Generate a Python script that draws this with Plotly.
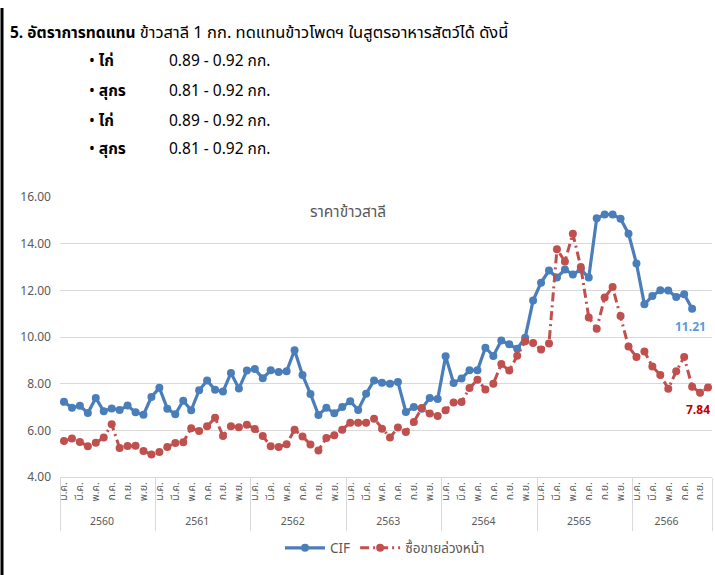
import plotly.graph_objects as go

# ---------------- data ----------------
YEARS = ["2560", "2561", "2562", "2563", "2564", "2565", "2566"]
MONTHS = ["ม.ค.", "ก.พ.", "มี.ค.", "เม.ย.", "พ.ค.", "มิ.ย.",
          "ก.ค.", "ส.ค.", "ก.ย.", "ต.ค.", "พ.ย.", "ธ.ค."]
MONTHS_LAST_YEAR = 9          # 2566 : ม.ค. - ก.ย.
EXTRA_CATEGORIES = 1          # one trailing un-labelled month

CIF = [7.22, 6.97, 7.05, 6.74, 7.39, 6.82, 6.94, 6.87, 7.06, 6.77, 6.67, 7.43,
       7.82, 6.93, 6.69, 7.27, 6.86, 7.72, 8.14, 7.74, 7.66, 8.46, 7.79, 8.56,
       8.63, 8.23, 8.57, 8.50, 8.53, 9.43, 8.37, 7.56, 6.66, 6.97, 6.73, 7.00,
       7.25, 6.87, 7.57, 8.14, 8.04, 8.00, 8.07, 6.79, 7.00, 6.93, 7.39, 7.34,
       9.17, 8.03, 8.22, 8.57, 8.57, 9.54, 9.19, 9.85, 9.69, 9.50, 9.97, 11.56,
       12.33, 12.85, 12.55, 12.89, 12.68, 12.89, 12.55, 15.09, 15.25, 15.25, 15.07, 14.43,
       13.15, 11.40, 11.76, 12.00, 11.99, 11.71, 11.83, 11.21]

FUTURES = [5.54, 5.65, 5.50, 5.32, 5.47, 5.69, 6.26, 5.24, 5.33, 5.34, 5.11, 4.96,
           5.07, 5.29, 5.46, 5.49, 6.09, 5.97, 6.17, 6.54, 5.76, 6.17, 6.13, 6.24,
           6.06, 5.76, 5.32, 5.29, 5.40, 6.03, 5.74, 5.39, 5.14, 5.67, 5.79, 6.03,
           6.33, 6.33, 6.33, 6.50, 6.07, 5.69, 6.12, 5.93, 6.36, 6.96, 6.72, 6.61,
           6.86, 7.19, 7.21, 7.81, 8.17, 7.75, 8.00, 8.84, 8.56, 9.20, 9.82, 9.74,
           9.46, 9.72, 13.76, 13.24, 14.43, 13.00, 10.84, 10.35, 11.69, 12.14, 10.90, 9.59,
           9.14, 9.38, 8.74, 8.37, 7.78, 8.53, 9.14, 7.87, 7.61, 7.84]

CIF_NAME = "CIF"
FUT_NAME = "ซื้อขายล่วงหน้า"
CHART_TITLE = "ราคาข้าวสาลี"

HEADER_BOLD = "5. อัตราการทดแทน"
HEADER_TEXT = "ข้าวสาลี 1 กก. ทดแทนข้าวโพดฯ ในสูตรอาหารสัตว์ได้ ดังนี้"
BULLET_ANIMALS = ["ไก่", "สุกร", "ไก่", "สุกร"]
BULLET_RATES = ["0.89 - 0.92 กก.", "0.81 - 0.92 กก.", "0.89 - 0.92 กก.", "0.81 - 0.92 กก."]

# ---------------- categories (two-level axis) ----------------
outer, inner = [], []
for yi, yr in enumerate(YEARS):
    n = 12 if yi < len(YEARS) - 1 else MONTHS_LAST_YEAR
    for m in range(n):
        outer.append(yr)
        inner.append("\u00a0" + MONTHS[m] if m % 2 == 0 else "\u200b" * (m // 2 + 1))
for k in range(EXTRA_CATEGORIES):
    outer.append(" ")
    inner.append("\u200b" * (k + 1))
NCAT = len(outer)

BLUE = "#4A7EBB"
RED = "#C0504D"
GREY = "#595959"
FONT = "Tahoma, 'Noto Sans Thai', 'Noto Sans', sans-serif"

# ---------------- geometry helpers (layout only) ----------------
W, H = 715, 575
ML, MR, MT, MB = 60, 3, 197, 98
PW, PH = W - ML - MR, H - MT - MB


def px_x(px):
    return (px - ML) / PW


def px_y(py):
    return (H - MB - py) / PH


def cat_x(i):
    return (i + 0.5) / NCAT


fig = go.Figure()

nC = len(CIF)
nF = len(FUTURES)

fig.add_trace(go.Scatter(
    x=[outer[:nC], inner[:nC]], y=CIF, name=CIF_NAME, mode="lines+markers",
    line=dict(color=BLUE, width=3.2), marker=dict(color=BLUE, size=8),
))
fig.add_trace(go.Scatter(
    x=[outer[:nF], inner[:nF]], y=FUTURES, name=FUT_NAME, mode="lines+markers",
    line=dict(color=RED, width=3, dash="9px,4px,2px,4px"),
    marker=dict(color=RED, size=8),
))

annotations = [
    dict(text=(f"<b>{HEADER_BOLD}</b> "
               f"<span style='font-size:16.5px'>{HEADER_TEXT}</span>"),
         x=px_x(8), y=px_y(32),
         xref="paper", yref="paper", xanchor="left", yanchor="middle",
         showarrow=False, font=dict(family=FONT, size=15.5, color="black")),
    dict(text=CHART_TITLE, x=px_x(348), y=px_y(212), xref="paper", yref="paper",
         xanchor="center", yanchor="middle", showarrow=False,
         font=dict(family=FONT, size=15.5, color=GREY)),
    # data labels of the last points
    dict(text=f"<b>{CIF[-1]:.2f}</b>", x=cat_x(nC - 1), y=CIF[-1], xref="paper", yref="y",
         xanchor="center", yanchor="middle", xshift=-2, yshift=-18, showarrow=False,
         font=dict(family=FONT, size=12, color="#5B9BD5")),
    dict(text=f"<b>{FUTURES[-1]:.2f}</b>", x=cat_x(nF - 1), y=FUTURES[-1], xref="paper", yref="y",
         xanchor="center", yanchor="middle", xshift=-10, yshift=-23, showarrow=False,
         font=dict(family=FONT, size=12, color="#C00000")),
]
row_y = [62, 91, 121, 150]
for ry, animal, rate in zip(row_y, BULLET_ANIMALS, BULLET_RATES):
    annotations.append(dict(text=f"• <b>{animal}</b>", x=px_x(87), y=px_y(ry),
                            xref="paper", yref="paper", xanchor="left", yanchor="middle",
                            showarrow=False, font=dict(family=FONT, size=15.5, color="black")))
    annotations.append(dict(text=rate, x=px_x(167), y=px_y(ry),
                            xref="paper", yref="paper", xanchor="left", yanchor="middle",
                            showarrow=False, font=dict(family=FONT, size=15.5, color="black")))

fig.update_layout(
    width=W, height=H, margin=dict(l=ML, r=MR, t=MT, b=MB, autoexpand=False),
    paper_bgcolor="white", plot_bgcolor="white",
    font=dict(family=FONT, color=GREY),
    showlegend=True,
    legend=dict(orientation="h", x=px_x(385), y=px_y(548), xanchor="center",
                yanchor="middle", font=dict(size=13.5, color=GREY), itemwidth=40),
    annotations=annotations,
    shapes=[dict(type="line", xref="paper", yref="paper", x0=px_x(2), x1=px_x(2),
                 y0=px_y(8), y1=px_y(575), line=dict(color="black", width=3))],
)
fig.update_xaxes(
    type="multicategory", range=[-0.5, NCAT - 0.5], autorange=False,
    tickangle=-90, tickfont=dict(size=10.5, color=GREY),
    showline=True, linecolor="#D9D9D9", linewidth=1,
    showdividers=True, dividercolor="#D9D9D9", dividerwidth=1,
    showgrid=False, ticks="",
)
fig.update_yaxes(
    range=[4, 16], dtick=2, tickformat=".2f", showgrid=True, gridcolor="#D9D9D9",
    gridwidth=1, zeroline=False, showline=False, tickfont=dict(size=12, color=GREY),
    ticklabelstandoff=8,
)

fig.write_html("out.html", config={"displayModeBar": False},
               post_script="document.body.style.margin='0px';")
